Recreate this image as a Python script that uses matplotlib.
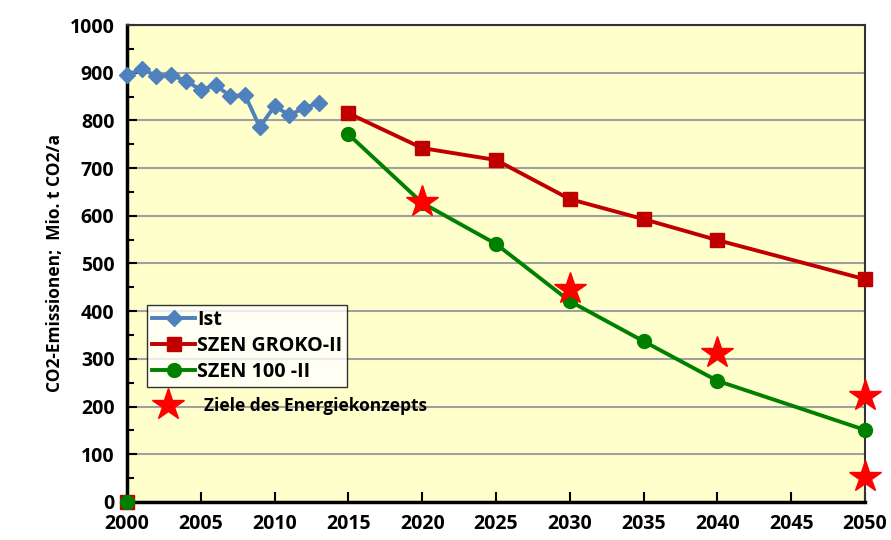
import numpy as np
import matplotlib.pyplot as plt
from matplotlib.lines import Line2D
from matplotlib.ticker import MultipleLocator

plt.rcParams['font.family'] = ['Open Sans', 'DejaVu Sans']
plt.rcParams['font.weight'] = 'bold'

# Ist-Werte
ist_years = list(range(2000, 2014))
ist_vals = [895, 908, 893, 895, 883, 864, 874, 851, 853, 786, 830, 811, 826, 836]

# Szenarien (Lücke zwischen 2000 und 2015)
scen_years = [2000, 2008, 2015, 2020, 2025, 2030, 2035, 2040, 2050]
groko_vals = [0, np.nan, 815, 742, 717, 635, 593, 549, 467]
szen100_vals = [0, np.nan, 771, 627, 541, 421, 337, 254, 151]

# Ziele des Energiekonzepts
target_years = [2020, 2030, 2040, 2050, 2050]
target_vals = [629, 447, 312, 222, 52]

fig = plt.figure(figsize=(8.91, 5.40), dpi=100)
ax = fig.add_axes([0.1425, 0.0704, 0.8283, 0.8833])
ax.set_facecolor('#FFFFCC')

ax.plot(ist_years, ist_vals, color='#4F81BD', lw=2.8, marker='D', ms=8.5,
        label='Ist', clip_on=False, zorder=3)
ax.plot(scen_years, groko_vals, color='#C00000', lw=2.8, marker='s', ms=10,
        label='SZEN GROKO-II', clip_on=False, zorder=3)
ax.plot(scen_years, szen100_vals, color='#008000', lw=2.8, marker='o', ms=10,
        label='SZEN 100 -II', clip_on=False, zorder=4)
ax.plot(target_years, target_vals, ls='none', marker='*', ms=24, color='#FF0000',
        clip_on=False, zorder=5)

ax.set_xlim(2000, 2050)
ax.set_ylim(0, 1000)
ax.xaxis.set_major_locator(MultipleLocator(5))
ax.yaxis.set_major_locator(MultipleLocator(100))
ax.yaxis.set_minor_locator(MultipleLocator(50))
ax.grid(axis='y', which='major', color='#A0A0A0', lw=1.5, zorder=1)
ax.set_axisbelow(True)

ax.tick_params(axis='both', which='both', direction='in', labelsize=14, width=1.5)
ax.tick_params(axis='both', which='major', length=7)
ax.tick_params(axis='y', which='minor', length=5)
ax.tick_params(axis='x', pad=9)
ax.tick_params(axis='y', pad=9)
for lbl in ax.get_xticklabels() + ax.get_yticklabels():
    lbl.set_fontweight('bold')

for side in ['left', 'bottom']:
    ax.spines[side].set_linewidth(2.5)
    ax.spines[side].set_color('black')
for side in ['top', 'right']:
    ax.spines[side].set_linewidth(1.5)
    ax.spines[side].set_color('#333333')

ax.set_ylabel('CO2-Emissionen;  Mio. t CO2/a', fontsize=12.5, fontweight='bold', labelpad=4)

leg = ax.legend(loc='upper left', bbox_to_anchor=(0.027, 0.413), fontsize=14.2,
                frameon=True, fancybox=False, edgecolor='black', handlelength=2.2,
                handletextpad=0.1, borderpad=0.25, labelspacing=0.3, borderaxespad=0)
leg.get_frame().set_linewidth(1.0)
for t in leg.get_texts():
    t.set_fontweight('bold')
ax.add_artist(leg)

star_handle = Line2D([], [], ls='none', marker='*', ms=24, color='#FF0000')
leg2 = ax.legend([star_handle], ['Ziele des Energiekonzepts'], loc='upper left',
                 bbox_to_anchor=(0.022, 0.234), fontsize=12.5, frameon=False,
                 handletextpad=1.1, borderaxespad=0)
for t in leg2.get_texts():
    t.set_fontweight('bold')

fig.savefig('out.png', dpi=100)
